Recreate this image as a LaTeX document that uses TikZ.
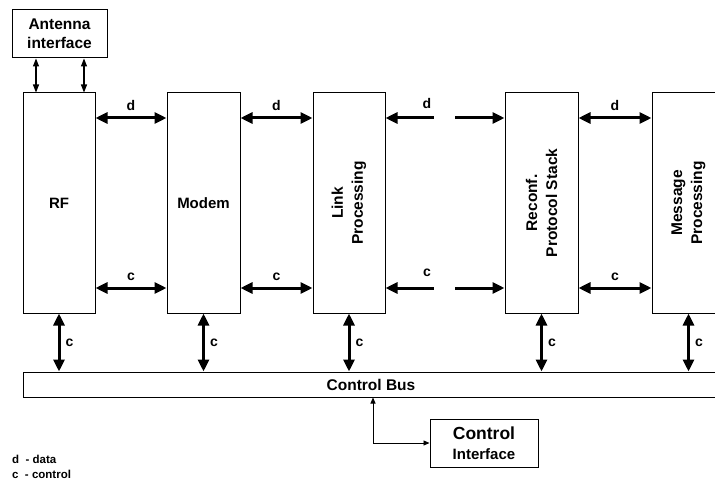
\documentclass[tikz,border=0pt]{standalone}
\usepackage{fontspec}
\setmainfont{Liberation Sans}
\usetikzlibrary{arrows.meta}
\begin{document}
\begin{tikzpicture}[x=1pt,y=-1pt,
  blk/.style={draw,line width=1pt,inner sep=0pt,minimum width=72pt,minimum height=220pt,
    font=\fontsize{15}{18}\selectfont\bfseries,align=center},
  big/.style={line width=3pt,{Triangle[length=12pt,width=11pt]}-{Triangle[length=12pt,width=11pt]}},
  bigL/.style={line width=3pt,{Triangle[length=12pt,width=11pt]}-},
  bigR/.style={line width=3pt,-{Triangle[length=12pt,width=11pt]}},
  thinarr/.style={line width=1.2pt,{Triangle[length=8pt,width=6pt]}-{Triangle[length=8pt,width=6pt]}},
  tinyarr/.style={line width=0.9pt,{Triangle[length=6pt,width=5pt]}-{Triangle[length=6pt,width=5pt]}},
  lbl/.style={font=\fontsize{14}{16}\selectfont\bfseries,inner sep=0pt}]
\useasboundingbox (0,0) rectangle (715,481);
\clip (0,0) rectangle (715,481);
\fill[white] (0,0) rectangle (715,481);

% boxes
\node[draw,line width=1pt,minimum width=95pt,minimum height=48pt,inner sep=0pt,align=center,
  font=\fontsize{15.5}{19}\selectfont\bfseries] (ant) at (59.5,34) {Antenna\\interface};
\node[blk] (rf) at (59,203) {RF};
\node[blk,minimum width=73pt] (modem) at (203.5,203) {Modem};
\node[blk] (link) at (349,203) {};
\node[font=\fontsize{15.5}{20}\selectfont\bfseries,align=center,rotate=90] (linkt) at (link.center) {Link\\Processing};
\node[blk,minimum width=73pt] (reconf) at (541.5,203) {};
\node[font=\fontsize{15.5}{20}\selectfont\bfseries,align=center,rotate=90] (reconft) at (reconf.center) {Reconf.\\Protocol Stack};
\node[blk,minimum width=73pt] (msg) at (688.5,203) {};
\node[font=\fontsize{15.5}{20}\selectfont\bfseries,align=center,rotate=90] (msgt) at (msg.center) {Message\\Processing};
\node[draw,line width=1pt,minimum width=696pt,minimum height=25pt,inner sep=0pt,
  font=\fontsize{15.5}{18}\selectfont\bfseries] (bus) at (371,384.5) {Control Bus};
\node[draw,line width=1pt,minimum width=108pt,minimum height=48pt,inner sep=0pt,align=center,
  font=\fontsize{15}{20}\selectfont\bfseries] (ci) at (484,443)
  {{\fontsize{17.5}{20}\selectfont Control}\\Interface};

% helper coordinates
\coordinate (dy) at (0,118);
\coordinate (cy) at (0,288);
\coordinate (a1) at (36,0);
\coordinate (a2) at (84,0);
\coordinate (dl) at (434,118);
\coordinate (dr) at (455,118);
\coordinate (cl) at (434,288);
\coordinate (cr) at (455,288);
\coordinate (cb) at (373,0);

% antenna arrows
\draw[thinarr] (ant.south -| a1) -- (rf.north -| a1);
\draw[thinarr] (ant.south -| a2) -- (rf.north -| a2);

% data arrows
\draw[big] (rf.east |- dy) -- node[lbl,above=6pt] (d1) {d} (modem.west |- dy);
\draw[big] (modem.east |- dy) -- node[lbl,above=6pt] (d2) {d} (link.west |- dy);
\draw[bigL] (link.east |- dy) -- (dl);
\draw[bigR] (dr) -- (reconf.west |- dy);
\node[lbl] (d3) at (427,103) {d};
\draw[big] (reconf.east |- dy) -- node[lbl,above=6pt] (d4) {d} (msg.west |- dy);

% control arrows
\draw[big] (rf.east |- cy) -- node[lbl,above=6pt] (c1) {c} (modem.west |- cy);
\draw[big] (modem.east |- cy) -- node[lbl,above=6pt] (c2) {c} (link.west |- cy);
\draw[bigL] (link.east |- cy) -- (cl);
\draw[bigR] (cr) -- (reconf.west |- cy);
\node[lbl] (c3) at (427,273) {c};
\draw[big] (reconf.east |- cy) -- node[lbl,above=6pt] (c4) {c} (msg.west |- cy);

% vertical control arrows
\foreach \b in {rf,modem,link,reconf,msg}{
  \draw[big] (\b.south) -- node[lbl,right=5pt] {c} (\b.south |- bus.north);
}

% control interface connector
\draw[tinyarr] (bus.south -| cb) -- (cb |- ci.west) -- (ci.west);

% legend
\node[font=\fontsize{11.5}{14}\selectfont\bfseries,anchor=west,inner sep=0pt] (lg1) at (12,459) {d\ \ - data};
\node[font=\fontsize{11.5}{14}\selectfont\bfseries,anchor=west,inner sep=0pt] (lg2) at (12,474) {c\ \ - control};
\end{tikzpicture}
\end{document}
